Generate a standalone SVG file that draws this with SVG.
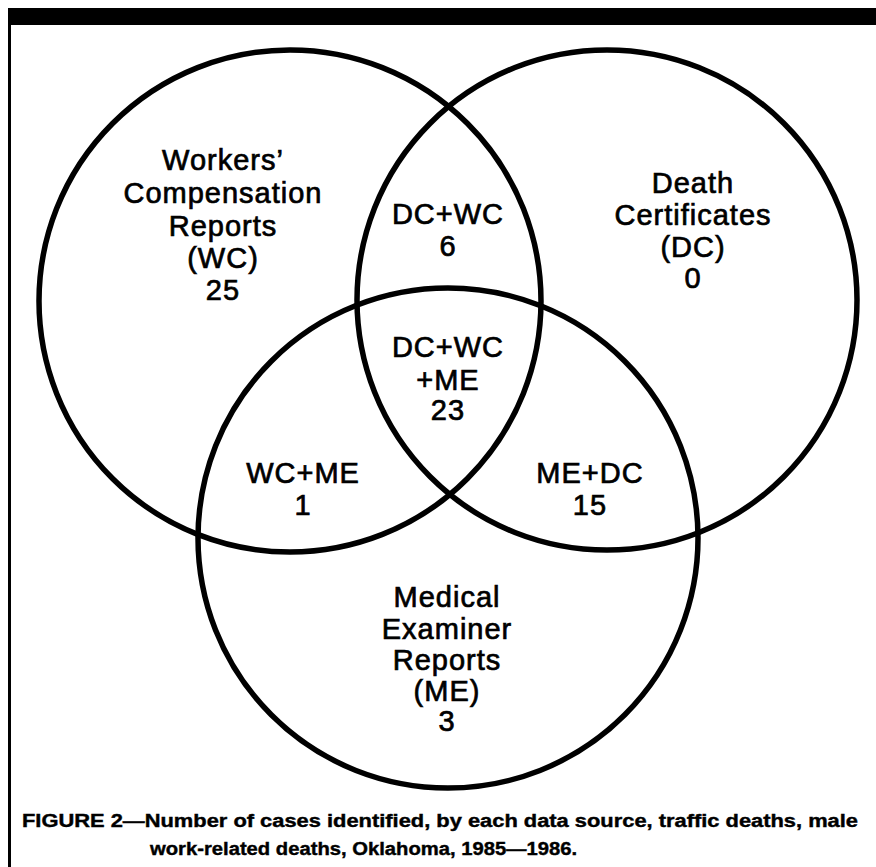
<svg xmlns="http://www.w3.org/2000/svg" width="876" height="867" viewBox="0 0 876 867">
<style>
.ring{fill:none;stroke:#000;stroke-width:5.5}
.lbl{font-family:"Liberation Sans",Arial,sans-serif;font-size:29px;letter-spacing:1px;fill:#000;stroke:#000;stroke-width:0.7;text-anchor:middle}
.cap{font-family:"Liberation Sans",Arial,sans-serif;font-size:18px;font-weight:bold;fill:#000;stroke:#000;stroke-width:0.4}
</style>
<rect x="0" y="0" width="876" height="867" fill="#fff"/>
<g id="frame">
<rect x="9" y="8" width="867" height="17" fill="#000"/>
<rect x="8" y="8" width="3" height="859" fill="#000"/>
</g>
<g id="connectors"></g>
<g id="wc">
<circle class="ring" cx="290" cy="301" r="251"/>
<text class="lbl"><tspan x="223" y="170">Workers’</tspan><tspan x="223" y="203">Compensation</tspan><tspan x="223" y="236">Reports</tspan><tspan x="223" y="268">(WC)</tspan><tspan x="223" y="300">25</tspan></text>
</g>
<g id="dc">
<circle class="ring" cx="607" cy="300" r="250"/>
<text class="lbl"><tspan x="693" y="193">Death</tspan><tspan x="693" y="225">Certificates</tspan><tspan x="693" y="257">(DC)</tspan><tspan x="693" y="288">0</tspan></text>
</g>
<g id="me">
<circle class="ring" cx="448" cy="538" r="250"/>
<text class="lbl"><tspan x="447" y="607">Medical</tspan><tspan x="447" y="639">Examiner</tspan><tspan x="447" y="670">Reports</tspan><tspan x="447" y="701">(ME)</tspan><tspan x="447" y="731">3</tspan></text>
</g>
<g id="dc-wc">
<text class="lbl"><tspan x="448" y="224">DC+WC</tspan><tspan x="448" y="256">6</tspan></text>
</g>
<g id="dc-wc-me">
<text class="lbl"><tspan x="448" y="357">DC+WC</tspan><tspan x="448" y="390">+ME</tspan><tspan x="448" y="420">23</tspan></text>
</g>
<g id="wc-me">
<text class="lbl"><tspan x="303" y="483">WC+ME</tspan><tspan x="303" y="515">1</tspan></text>
</g>
<g id="me-dc">
<text class="lbl"><tspan x="590" y="483">ME+DC</tspan><tspan x="590" y="515">15</tspan></text>
</g>
<g id="caption">
<text class="cap" x="22" y="827" textLength="836" lengthAdjust="spacingAndGlyphs">FIGURE 2—Number of cases identified, by each data source, traffic deaths, male</text>
<text class="cap" x="150" y="855" textLength="427" lengthAdjust="spacingAndGlyphs">work-related deaths, Oklahoma, 1985—1986.</text>
</g>
</svg>
